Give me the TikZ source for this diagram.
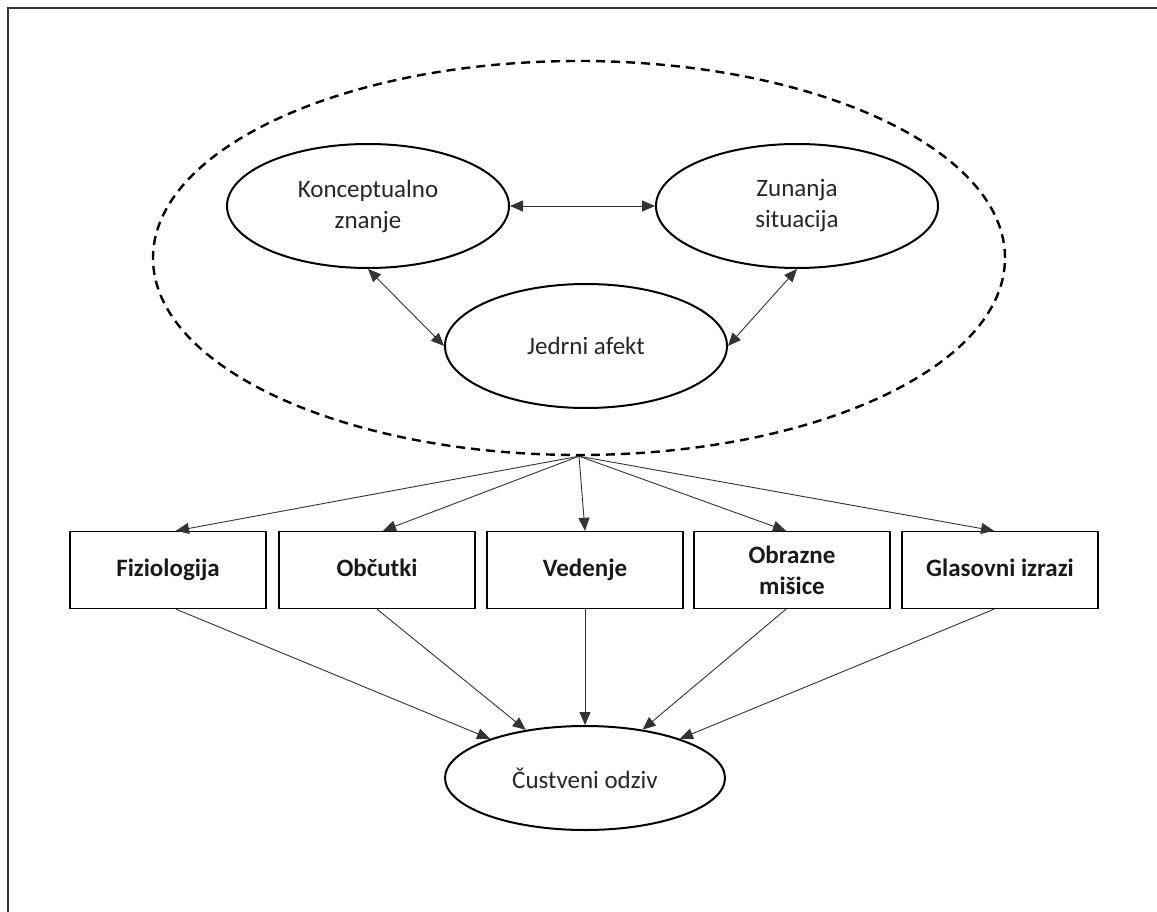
\documentclass[tikz,border=0pt]{standalone}
\usepackage{fontspec}
\setmainfont{Carlito}
\usepackage{tikz}
\usetikzlibrary{shapes.geometric, positioning, arrows.meta}

\tikzset{
  ell/.style = {ellipse, draw, line width=2pt, align=center, inner sep=0pt,
                minimum width=282pt, minimum height=124pt, text=black!85},
  box/.style = {rectangle, draw, line width=1.4pt, align=center, inner sep=0pt,
                minimum width=196pt, minimum height=77pt,
                font=\fontsize{25}{31}\selectfont\bfseries, text=black!90},
  conn/.style = {draw, line width=0.9pt, draw=black!80, -{Triangle[length=13pt, width=11pt]}},
  both/.style = {conn, {Triangle[length=13pt, width=11pt]}-{Triangle[length=13pt, width=11pt]}},
}

\begin{document}
\begin{tikzpicture}[x=1pt, y=-1pt, font=\fontsize{25}{31}\selectfont]

            \useasboundingbox (0,0) rectangle (1157,912);
            \draw[line width=1.6pt, black!80] (1157,8) -- (8,8) -- (8,912);

            \node[ellipse, draw, dashed, line width=2.4pt, dash pattern=on 9pt off 6pt,
                  minimum width=852pt, minimum height=394pt, inner sep=0pt] (D) at (579,258) {};

            \node[ell] (J) at (586,346) {Jedrni afekt};
            \node[ell] (K) [on grid, above left=140pt and 218pt of J] {Konceptualno\\znanje};
            \node[ell] (Z) [on grid, above right=140pt and 211pt of J] {Zunanja\\situacija};

            \node[box] (V) at (585,570) {\strut Vedenje};
            \node[box] (O) [on grid, left=208pt of V] {\strut Občutki};
            \node[box] (F) [on grid, left=209pt of O] {\strut Fiziologija};
            \node[box] (M) [on grid, right=207pt of V] {Obrazne\\mišice};
            \node[box] (G) [on grid, right=208pt of M] {\strut Glasovni izrazi};

            \node[ell, minimum width=280pt, minimum height=104pt] (C) [on grid, below=208pt of V] {Čustveni odziv};

            \path
            (K) edge[both] (Z)
            (K.south) edge[both] (J.west)
            (Z.south) edge[both] (J.east);

            \path
            (D.south) edge[conn] ([xshift=8pt]F.north)
            (D.south) edge[conn] ([xshift=6pt]O.north)
            (D.south) edge[conn] (V.north)
            (D.south) edge[conn] ([xshift=-6pt]M.north)
            (D.south) edge[conn] ([xshift=-6pt]G.north)

            ([xshift=8pt]F.south) edge[conn] (C)
            (O.south) edge[conn] (C)
            (V.south) edge[conn] (C)
            ([xshift=-6pt]M.south) edge[conn] (C)
            ([xshift=-6pt]G.south) edge[conn] (C);

        \end{tikzpicture}
\end{document}
